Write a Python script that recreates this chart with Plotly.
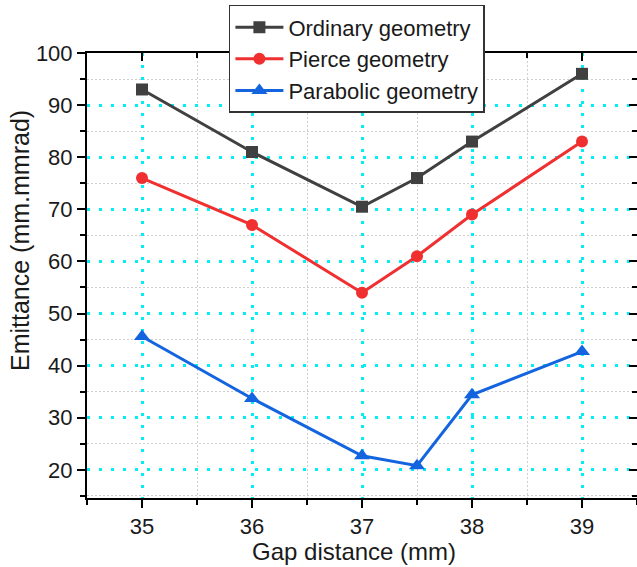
import plotly.graph_objects as go

gap = [35, 36, 37, 37.5, 38, 39]
ordinary = [93, 81, 70.5, 76, 83, 96]
pierce = [76, 67, 54, 61, 69, 83]
parabolic = [45.6, 33.7, 22.7, 20.8, 34.4, 42.7]

FONT = "Liberation Sans, Arial, sans-serif"

fig = go.Figure()
fig.add_trace(go.Scatter(x=gap, y=ordinary, name="Ordinary geometry", mode="lines+markers",
                         line=dict(color="#404040", width=3),
                         marker=dict(symbol="square", size=12, color="#404040")))
fig.add_trace(go.Scatter(x=gap, y=pierce, name="Pierce geometry", mode="lines+markers",
                         line=dict(color="#f03030", width=3),
                         marker=dict(symbol="circle", size=12, color="#f03030")))
fig.add_trace(go.Scatter(x=gap, y=parabolic, name="Parabolic geometry", mode="lines+markers",
                         line=dict(color="#1464e0", width=3),
                         marker=dict(symbol="triangle-up", size=14, color="#1464e0")))

# invisible trace to activate mirror axes
fig.add_trace(go.Scatter(x=[35], y=[50], xaxis="x2", yaxis="y2", showlegend=False,
                         mode="markers", marker=dict(opacity=0), hoverinfo="skip"))

grid_major = dict(showgrid=True, gridcolor="#00eef4", gridwidth=2.5, griddash="3px,9px")
fig.update_layout(
    width=637, height=567,
    margin=dict(l=87, r=0, t=53, b=69),
    paper_bgcolor="white", plot_bgcolor="white",
    font=dict(family=FONT, size=22, color="#1a1a1a"),
    xaxis=dict(range=[34.5, 39.5], tickvals=[35, 36, 37, 38, 39], ticks="outside", ticklen=8,
               tickwidth=2, tickcolor="black", showline=True, linecolor="black", linewidth=2,
               zeroline=False, tickfont=dict(size=22),
               minor=dict(tickvals=[34.5, 35.5, 36.5, 37.5, 38.5, 39.5], ticks="outside", ticklen=5,
                          tickwidth=2, tickcolor="black", showgrid=True, gridcolor="#cfcfcf",
                          gridwidth=1.2, griddash="2px,2px"),
               **grid_major),
    yaxis=dict(range=[14.6, 100], tickvals=[20, 30, 40, 50, 60, 70, 80, 90, 100], ticks="outside",
               ticklen=8, tickwidth=2, tickcolor="black", showline=True, linecolor="black",
               linewidth=2, zeroline=False, tickfont=dict(size=22),
               minor=dict(tickvals=[15, 25, 35, 45, 55, 65, 75, 85, 95], ticks="outside", ticklen=5,
                          tickwidth=2, tickcolor="black", showgrid=True, gridcolor="#cfcfcf",
                          gridwidth=1.2, griddash="2px,2px"),
               **grid_major),
    xaxis2=dict(overlaying="x", side="top", range=[34.5, 39.5], tickvals=[35, 36, 37, 38, 39],
                ticks="inside", ticklen=8, tickwidth=2, tickcolor="black", showticklabels=False,
                showline=True, linecolor="black", linewidth=2, showgrid=False, zeroline=False,
                minor=dict(tickvals=[35.5, 36.5, 37.5, 38.5], ticks="inside", ticklen=5,
                           tickwidth=2, tickcolor="black", showgrid=False)),
    yaxis2=dict(overlaying="y", side="right", range=[14.6, 100],
                tickvals=[20, 30, 40, 50, 60, 70, 80, 90, 100], ticks="inside", ticklen=8,
                tickwidth=2, tickcolor="black", showticklabels=False, showline=True,
                linecolor="black", linewidth=2, showgrid=False, zeroline=False,
                minor=dict(tickvals=[15, 25, 35, 45, 55, 65, 75, 85, 95], ticks="inside",
                           ticklen=5, tickwidth=2, tickcolor="black", showgrid=False)),
    legend=dict(x=0.258, y=1.108, xanchor="left", yanchor="top", bgcolor="white",
                bordercolor="#333333", borderwidth=1.5, font=dict(size=22, color="#1a1a1a"),
                tracegroupgap=0, itemwidth=48),
    showlegend=True,
    annotations=[
        dict(text="Gap distance (mm)", xref="paper", yref="paper",
             x=(354 - 87) / 550, y=(498 - 551) / 445, xanchor="center", yanchor="middle",
             showarrow=False, font=dict(size=24)),
        dict(text="Emittance (mm.mmrad)", xref="paper", yref="paper", textangle=-90,
             x=(20 - 87) / 550, y=(498 - 241) / 445, xanchor="center", yanchor="middle",
             showarrow=False, font=dict(size=25)),
    ],
)

fig.write_html("out.html")
